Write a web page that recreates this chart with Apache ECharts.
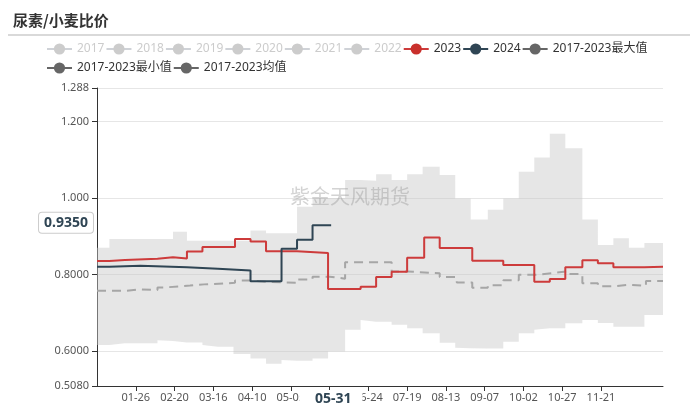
<!DOCTYPE html>
<html>
<head>
<meta charset="utf-8">
<script src="https://cdn.jsdelivr.net/npm/echarts@6/dist/echarts.min.js"></script>
<style>
html,body{margin:0;padding:0;background:#fff;}
#chart{width:700px;height:408px;}
</style>
</head>
<body>
<div id="chart"></div>
<script>
// ---- categories (MM-DD of a leap year) ----
const monthDays = [31, 29, 31, 30, 31, 30, 31, 31, 30, 31, 30, 31];
const categories = [];
monthDays.forEach(function (n, m) {
  for (let d = 1; d <= n; d++) {
    categories.push(String(m + 1).padStart(2, '0') + '-' + String(d).padStart(2, '0'));
  }
});

// ---- 2017-2023 band (max / min), values hold from each date to the next ----
const bandDates = ['01-01','01-09','01-19','01-29','02-09','02-19','02-28','03-09','03-19','03-29','04-09','04-19','04-29','05-09','05-19','05-29','06-09','06-19','06-29','07-09','07-19','07-29','08-09','08-19','08-29','09-09','09-19','09-29','10-09','10-19','10-29','11-09','11-19','11-29','12-09','12-19','12-31'];
const bandMax = [0.870,0.893,0.893,0.893,0.893,0.912,0.888,0.888,0.888,0.888,0.915,0.908,0.908,0.977,1.000,1.000,1.047,1.045,1.062,1.047,1.062,1.082,1.060,0.999,0.944,0.969,0.999,1.069,1.106,1.168,1.130,0.944,0.877,0.895,0.870,0.882,0.882];
const bandMin = [0.615,0.615,0.620,0.620,0.628,0.626,0.622,0.615,0.611,0.592,0.580,0.566,0.576,0.574,0.580,0.598,0.655,0.681,0.676,0.668,0.659,0.646,0.621,0.608,0.607,0.606,0.624,0.646,0.655,0.659,0.672,0.681,0.673,0.663,0.663,0.694,0.694];

// ---- 2017-2023 mean ----
const meanDates = ['01-01','01-19','01-29','02-09','02-14','03-01','03-10','03-30','04-09','04-19','05-09','05-19','05-30','06-09','07-09','07-19','08-09','08-20','08-30','09-09','09-19','09-29','10-10','10-20','10-30','11-09','11-19','11-29','12-09','12-20','12-31'];
const meanVals = [0.757,0.761,0.759,0.766,0.771,0.774,0.778,0.784,0.781,0.778,0.787,0.794,0.789,0.832,0.808,0.803,0.793,0.779,0.765,0.772,0.785,0.799,0.803,0.808,0.801,0.777,0.769,0.773,0.770,0.783,0.783];

// ---- 2023 ----
const y2023Dates = ['01-01','01-09','01-19','02-09','02-19','02-28','03-09','03-30','04-09','04-19','05-09','05-29','06-19','06-29','07-09','07-19','07-30','08-09','08-30','09-19','10-09','10-19','10-29','11-09','11-19','11-29','12-19','12-31'];
const y2023Vals = [0.835,0.838,0.841,0.845,0.842,0.860,0.872,0.893,0.886,0.861,0.856,0.762,0.768,0.793,0.807,0.844,0.897,0.869,0.836,0.825,0.781,0.788,0.819,0.837,0.829,0.819,0.820,0.820];

// ---- 2024 ----
const y2024Dates = ['01-01','01-09','01-29','02-28','03-19','04-09','04-29','05-09','05-19','05-31'];
const y2024Vals = [0.820,0.823,0.819,0.815,0.810,0.782,0.867,0.891,0.929,0.929];

const hiddenYears = ['2017','2018','2019','2020','2021','2022'];
const pointerDate = '05-31';
const pointerValue = 0.935;

function pairs(dates, vals) { return dates.map(function (d, i) { return [d, vals[i]]; }); }
const bandDiff = bandMax.map(function (v, i) { return +(v - bandMin[i]).toFixed(4); });

const FONT = "'Noto Sans','Noto Sans CJK SC',sans-serif";
const labelInterval = function (idx) { return idx % 25 === 0 && idx > 0 && idx < 340; };

const chart = echarts.init(document.getElementById('chart'));
const selected = {};
hiddenYears.forEach(function (y) { selected[y] = false; });

const grayLegend = function (name) {
  return { name: name, itemStyle: { color: '#666' }, lineStyle: { color: '#666', opacity: 1, width: 2, type: 'solid' } };
};
const legendRow1 = hiddenYears.map(function (y) { return { name: y }; }).concat([
  { name: '2023' }, { name: '2024' }, grayLegend('2017-2023最大值')
]);
const legendRow2 = [grayLegend('2017-2023最小值'), grayLegend('2017-2023均值')];

const yearSeries = hiddenYears.map(function (y) {
  return { name: y, type: 'line', data: [], symbol: 'circle', showSymbol: false };
});

const legendBase = {
  left: 41, itemGap: 1, itemWidth: 25, itemHeight: 14,
  inactiveColor: '#ccc',
  textStyle: { fontSize: 12, color: '#333', fontFamily: FONT }
};

const option = {
  animation: false,
  textStyle: { fontFamily: FONT },
  title: {
    text: '尿素/小麦比价', left: 8, top: 8,
    textStyle: { fontSize: 15, fontWeight: 'bold', color: '#333', fontFamily: 'Noto Sans CJK SC' }
  },
  legend: [
    Object.assign({}, legendBase, { top: 38, selected: selected, data: legendRow1 }),
    Object.assign({}, legendBase, { top: 57, data: legendRow2 })
  ],
  grid: { left: 97, right: 37, top: 88, bottom: 22 },
  xAxis: {
    type: 'category', data: categories, boundaryGap: false,
    axisLine: { lineStyle: { color: '#333' } },
    axisTick: { interval: labelInterval, lineStyle: { color: '#333' } },
    axisLabel: { interval: labelInterval, color: '#555', fontSize: 11, margin: 6, fontFamily: FONT },
    splitLine: { show: false },
    axisPointer: {
      show: true, type: 'line', snap: true, status: 'show', triggerTooltip: false,
      value: categories.indexOf(pointerDate),
      lineStyle: { color: 'rgba(0,0,0,0)', width: 0 },
      label: { show: true, backgroundColor: '#fff', color: '#2f4554', fontWeight: 'bold', fontSize: 14, padding: [2, 11, 2, 15], margin: 4, fontFamily: FONT }
    }
  },
  yAxis: {
    type: 'value', min: 0.508, max: 1.288,
    axisLine: { show: true, lineStyle: { color: '#333' } },
    axisTick: { show: true, lineStyle: { color: '#333' } },
    axisLabel: { color: '#555', fontSize: 11, fontFamily: FONT, formatter: function (v) { return Number(v).toPrecision(4); } },
    splitLine: { lineStyle: { color: '#e6e6e6' } },
    axisPointer: {
      show: true, type: 'line', snap: false, status: 'show', triggerTooltip: false,
      value: pointerValue,
      lineStyle: { color: 'rgba(0,0,0,0)', width: 0 },
      label: {
        show: true, backgroundColor: '#fff', borderColor: '#ccc', borderWidth: 1,
        color: '#2f4554', fontWeight: 'bold', fontSize: 14, padding: [3, 5, 3, 5], margin: 4, fontFamily: FONT,
        formatter: function (p) { return Number(p.value).toPrecision(4); }
      }
    }
  },
  graphic: [
    { type: 'line', shape: { x1: 8, y1: 35, x2: 690, y2: 35 }, style: { stroke: '#ccc', lineWidth: 1.5 }, silent: true },
    { type: 'text', left: 'center', top: 186, z: 100, silent: true,
      style: { text: '紫金天风期货', fill: 'rgba(150,150,150,0.42)', font: '20px "Noto Sans CJK SC"' } }
  ],
  series: yearSeries.concat([
    {
      name: '2017-2023最小值', type: 'line', stack: 'band', step: 'end',
      data: pairs(bandDates, bandMin), symbol: 'circle', showSymbol: false,
      itemStyle: { color: '#666' }, lineStyle: { opacity: 0, width: 0 }, z: 1
    },
    {
      name: '2017-2023最大值', type: 'line', stack: 'band', step: 'end',
      data: pairs(bandDates, bandDiff), symbol: 'circle', showSymbol: false,
      itemStyle: { color: '#666' }, lineStyle: { opacity: 0, width: 0 },
      areaStyle: { color: 'rgba(200,200,200,0.45)', opacity: 1 }, z: 1
    },
    {
      name: '2017-2023均值', type: 'line', step: 'end',
      data: pairs(meanDates, meanVals), symbol: 'circle', showSymbol: false,
      itemStyle: { color: '#666' }, lineStyle: { color: '#a6a6a6', width: 2, type: [9, 6] }, z: 3
    },
    {
      name: '2023', type: 'line', step: 'end',
      data: pairs(y2023Dates, y2023Vals), symbol: 'circle', showSymbol: false,
      itemStyle: { color: '#c9302c' }, lineStyle: { color: '#cd3b3b', width: 2 }, z: 4
    },
    {
      name: '2024', type: 'line', step: 'end',
      data: pairs(y2024Dates, y2024Vals), symbol: 'circle', showSymbol: false,
      itemStyle: { color: '#2f4554' }, lineStyle: { color: '#2f4554', width: 2 }, z: 5
    }
  ])
};
chart.setOption(option);
</script>
</body>
</html>
